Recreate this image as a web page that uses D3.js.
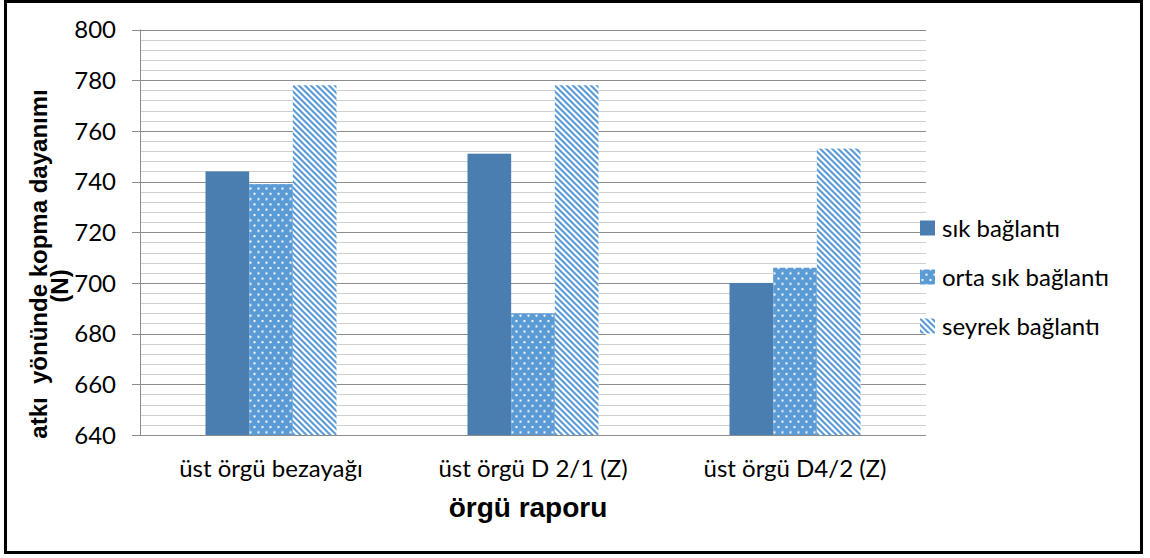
<!DOCTYPE html>
<html>
<head>
<meta charset="utf-8">
<script src="https://cdn.jsdelivr.net/npm/d3@7/dist/d3.min.js"></script>
<style>
  html, body { margin: 0; padding: 0; background: #fff; }
  svg { display: block; font-family: Lato, "Open Sans", sans-serif; }
  .title { font-family: "Liberation Sans", Arial, sans-serif; font-weight: bold; white-space: pre; }
</style>
</head>
<body>
<svg id="chart" width="1150" height="558"></svg>
<script>
// Categories (weave report) and the three binding densities
const categories = ["üst örgü bezayağı", "üst örgü D 2/1 (Z)", "üst örgü D4/2 (Z)"];
const seriesNames = ["sık bağlantı", "orta sık bağlantı", "seyrek bağlantı"];

// Weft-direction breaking strength (N), one value per category
const sikValues = [744, 751, 700];
const ortaValues = [739, 688, 706];
const seyrekValues = [778, 778, 753];

const yTicks = [640, 660, 680, 700, 720, 740, 760, 780, 800];
const yTitleLines = ["atkı  yönünde kopma dayanımı", "(N)"];
const xTitle = "örgü raporu";

const seriesValues = [sikValues, ortaValues, seyrekValues];

const svg = d3.select("#chart");
const defs = svg.append("defs");

// Dotted fill for the middle series
const dots = defs.append("pattern")
  .attr("id", "dots").attr("patternUnits", "userSpaceOnUse")
  .attr("width", 8).attr("height", 10.6);
dots.append("rect").attr("width", 8).attr("height", 10.6).attr("fill", "#5b9bd5");
dots.append("rect").attr("x", 1.5).attr("y", 2).attr("width", 2).attr("height", 2).attr("fill", "#ffffff");
dots.append("rect").attr("x", 5.5).attr("y", 7.3).attr("width", 2).attr("height", 2).attr("fill", "#ffffff");

// Wide downward diagonal stripes for the sparse series
const stripes = defs.append("pattern")
  .attr("id", "stripes").attr("patternUnits", "userSpaceOnUse")
  .attr("width", 6).attr("height", 6);
stripes.append("rect").attr("width", 6).attr("height", 6).attr("fill", "#ffffff");
stripes.append("path")
  .attr("d", "M0,0 L3,0 L6,3 L6,6 Z M0,3 L3,6 L0,6 Z")
  .attr("fill", "#5b9bd5");

const fills = ["#4a7eb0", "url(#dots)", "url(#stripes)"];

const plot = { left: 140, right: 926, top: 29.5, bottom: 435 };

const y = d3.scaleLinear().domain([640, 800]).range([plot.bottom, plot.top]);
const x0 = d3.scaleBand().domain(categories).range([plot.left, plot.right]);
const bw = x0.bandwidth();
const x1 = d3.scaleBand().domain(seriesNames).range([bw / 4, bw * 3 / 4]);

// Minor gridlines every 4 N
const minor = d3.range(640, 800.1, 4).filter(v => v % 20 !== 0);
svg.append("g").selectAll("line").data(minor).join("line")
  .attr("x1", plot.left).attr("x2", plot.right)
  .attr("y1", d => Math.round(y(d)) + 0.5).attr("y2", d => Math.round(y(d)) + 0.5)
  .attr("stroke", "#cfcfcf").attr("stroke-width", 1);

// Major gridlines with tick stubs to the left of the axis
svg.append("g").selectAll("line").data(yTicks).join("line")
  .attr("x1", plot.left - 8).attr("x2", plot.right)
  .attr("y1", d => Math.round(y(d)) + 0.5).attr("y2", d => Math.round(y(d)) + 0.5)
  .attr("stroke", "#8c8c8c").attr("stroke-width", 1);

// Vertical axis line
svg.append("line")
  .attr("x1", plot.left + 0.5).attr("x2", plot.left + 0.5)
  .attr("y1", y(800)).attr("y2", y(640))
  .attr("stroke", "#8c8c8c");

// Y tick labels
svg.append("g").selectAll("text").data(yTicks).join("text")
  .attr("x", 116).attr("y", d => y(d)).attr("dy", "0.36em")
  .attr("text-anchor", "end").attr("font-size", 24).attr("fill", "#000")
  .text(d => d);

// Bars
const groups = svg.append("g").selectAll("g").data(categories).join("g")
  .attr("transform", c => `translate(${x0(c)},0)`);
groups.selectAll("rect")
  .data((c, i) => seriesNames.map((s, k) => ({ s, k, v: seriesValues[k][i] })))
  .join("rect")
  .attr("x", d => x1(d.s)).attr("width", x1.bandwidth())
  .attr("y", d => y(d.v)).attr("height", d => y(640) - y(d.v))
  .attr("fill", d => fills[d.k]);

// Horizontal axis line on top of the bars
svg.append("line")
  .attr("x1", plot.left).attr("x2", plot.right)
  .attr("y1", Math.round(y(640)) + 0.5).attr("y2", Math.round(y(640)) + 0.5)
  .attr("stroke", "#8c8c8c");

// Category labels
svg.append("g").selectAll("text").data(categories).join("text")
  .attr("x", c => x0(c) + bw / 2).attr("y", 477)
  .attr("text-anchor", "middle").attr("font-size", 24).attr("fill", "#000")
  .text(c => c);

// Axis titles
svg.append("text").attr("class", "title")
  .attr("x", 528).attr("y", 517)
  .attr("text-anchor", "middle").attr("font-size", 28)
  .text(xTitle);

svg.append("text").attr("class", "title")
  .attr("transform", "translate(47,264) rotate(-90)")
  .attr("text-anchor", "middle").attr("font-size", 24)
  .text(yTitleLines[0]);
svg.append("text").attr("class", "title")
  .attr("transform", "translate(68,286) rotate(-90)")
  .attr("text-anchor", "middle").attr("font-size", 24)
  .text(yTitleLines[1]);

// Legend
const legend = svg.append("g").selectAll("g").data(seriesNames).join("g")
  .attr("transform", (d, i) => `translate(920,${228 + i * 49})`);
legend.append("rect")
  .attr("x", 0).attr("y", -7.5).attr("width", 15).attr("height", 15)
  .attr("fill", (d, i) => fills[i]);
legend.append("text")
  .attr("x", 22).attr("y", 0).attr("dy", "0.36em")
  .attr("font-size", 24).attr("fill", "#000")
  .text(d => d);

// Outer frame
svg.append("rect")
  .attr("x", 5.5).attr("y", 1.5).attr("width", 1136).attr("height", 551)
  .attr("fill", "none").attr("stroke", "#000").attr("stroke-width", 3);
</script>
</body>
</html>
